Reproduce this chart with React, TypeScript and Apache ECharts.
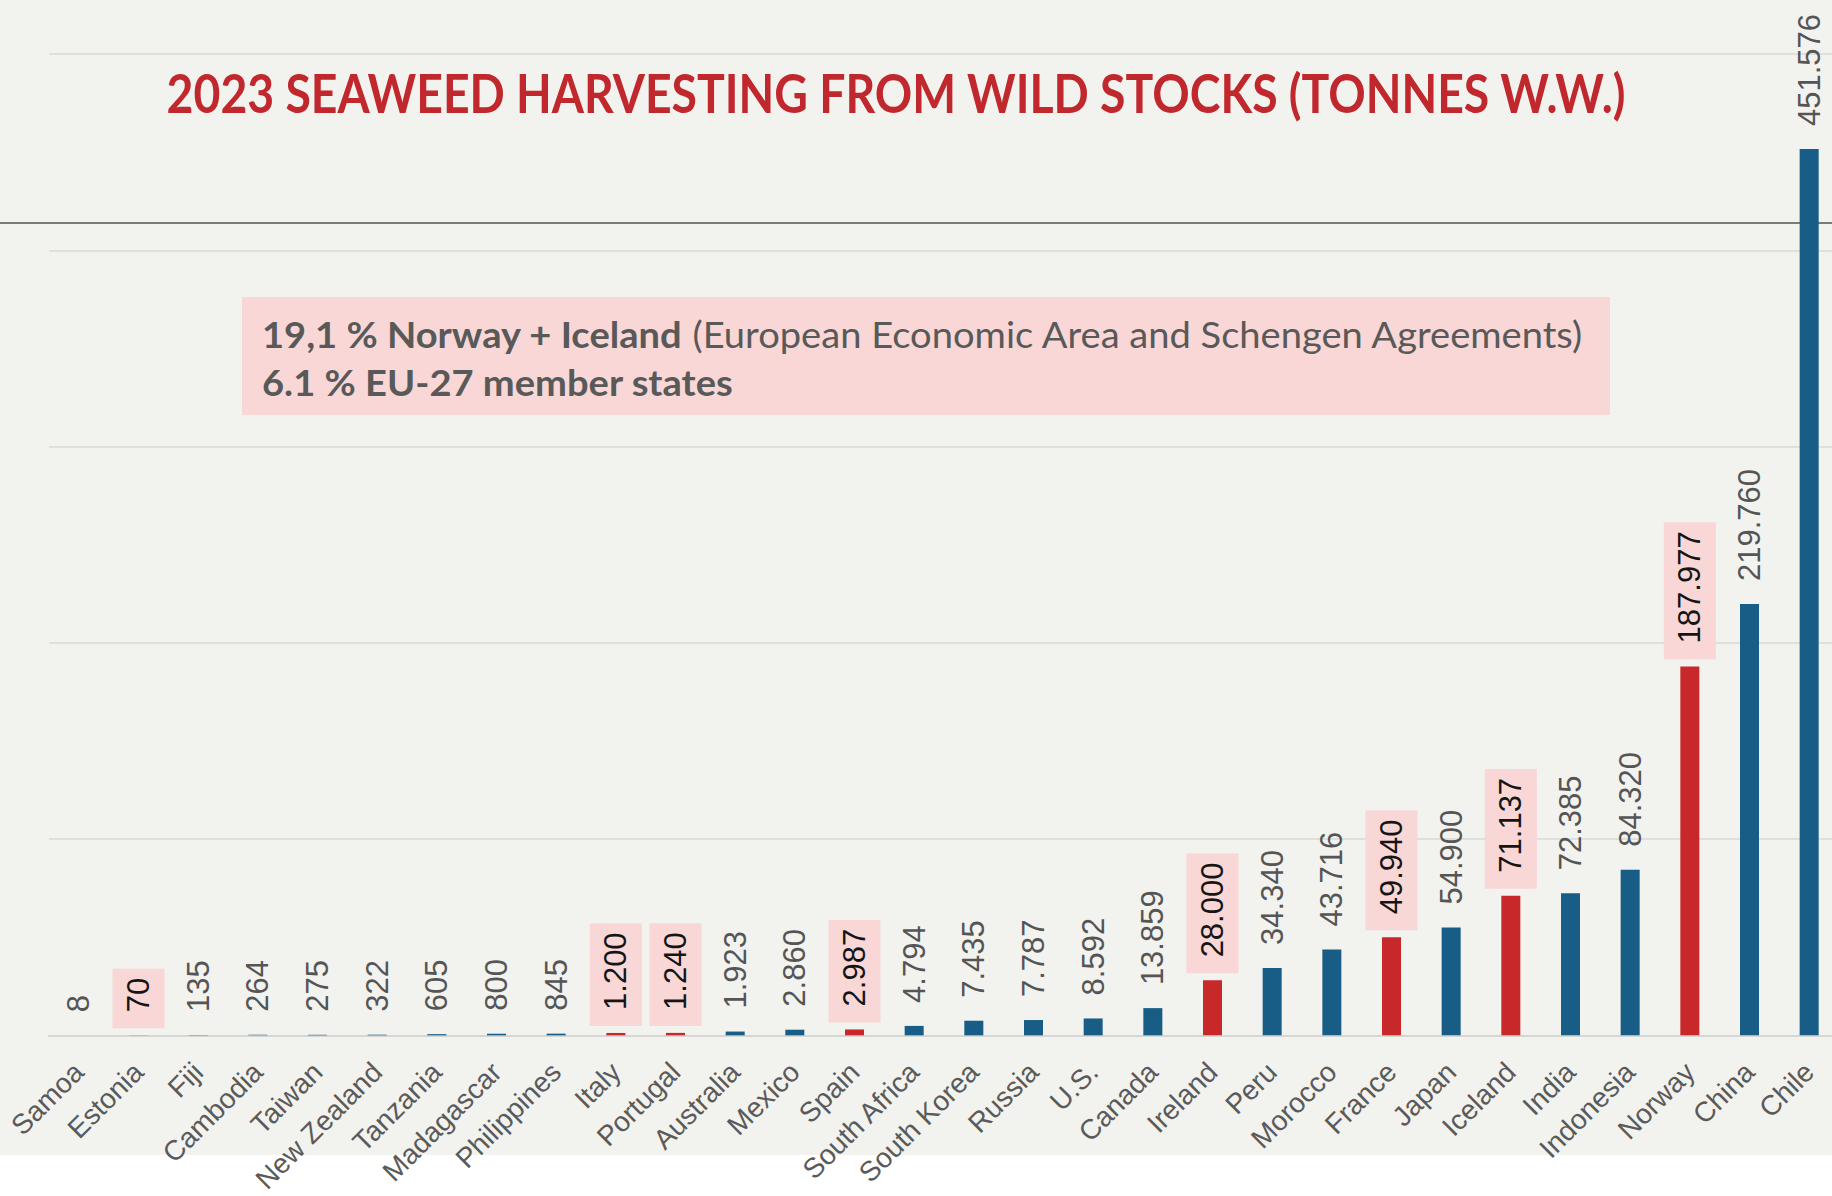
import React, { useEffect, useRef } from "react";
import * as echarts from "echarts";

const countries = [
  "Samoa", "Estonia", "Fiji", "Cambodia", "Taiwan", "New Zealand", "Tanzania", "Madagascar",
  "Philippines", "Italy", "Portugal", "Australia", "Mexico", "Spain", "South Africa",
  "South Korea", "Russia", "U.S.", "Canada", "Ireland", "Peru", "Morocco", "France", "Japan",
  "Iceland", "India", "Indonesia", "Norway", "China", "Chile",
];
const tonnes = [
  8, 70, 135, 264, 275, 322, 605, 800, 845, 1200, 1240, 1923, 2860, 2987, 4794, 7435, 7787,
  8592, 13859, 28000, 34340, 43716, 49940, 54900, 71137, 72385, 84320, 187977, 219760, 451576,
];
const highlighted = ["Estonia", "Italy", "Portugal", "Spain", "Ireland", "France", "Iceland", "Norway"];

const titleText = "2023 SEAWEED HARVESTING FROM WILD STOCKS (TONNES W.W.)";
const noteBold1 = "19,1 % Norway + Iceland";
const noteNormal1 = " (European Economic Area and Schengen Agreements)";
const noteBold2 = "6.1 % EU-27 member states";

const BLUE = "#175d85";
const RED = "#c9282a";
const PINK = "#f8d7d6";

const fmt = (v: number) => String(v).replace(/\B(?=(\d{3})+(?!\d))/g, ".");

function measure(text: string, font: string) {
  const ctx = document.createElement("canvas").getContext("2d");
  if (!ctx) return text.length * 20;
  ctx.font = font;
  return ctx.measureText(text).width;
}

export default function App() {
  const ref = useRef<HTMLDivElement>(null);
  useEffect(() => {
    if (!ref.current) return;
    const chart = echarts.init(ref.current, undefined, { renderer: "svg" });

    const titleFont = "bold 53px Lato";
    const titleScale = 1460 / measure(titleText, titleFont);
    const noteSize = 37;
    const wB1 = measure(noteBold1, `bold ${noteSize}px Lato`);
    const wN1 = measure(noteNormal1, `${noteSize}px Lato`);
    const noteScale = 1323 / (wB1 + wN1);

    const data = tonnes.map((v, i) => {
      const hi = highlighted.includes(countries[i]);
      return hi
        ? { value: v, itemStyle: { color: RED }, label: { backgroundColor: PINK, color: "#151515" } }
        : { value: v };
    });

    chart.setOption({
      animation: false,
      backgroundColor: "transparent",
      grid: { left: 49, right: 1, top: 54, bottom: 158, containLabel: false },
      xAxis: {
        type: "category",
        data: countries,
        axisLine: { lineStyle: { color: "#d6d6d4", width: 2 } },
        axisTick: { show: false },
        axisLabel: {
          interval: 0,
          rotate: 45,
          margin: 32,
          fontFamily: "Liberation Sans",
          fontSize: 28,
          color: "#5a5a5a",
        },
      },
      yAxis: {
        type: "value",
        min: 0,
        max: 500000,
        interval: 100000,
        axisLabel: { show: false },
        axisLine: { show: false },
        axisTick: { show: false },
        splitLine: { lineStyle: { color: "#d9d9d7", width: 1.5 } },
      },
      series: [
        {
          type: "bar",
          data,
          barWidth: 19,
          itemStyle: { color: BLUE },
          label: {
            show: true,
            position: "top",
            distance: 7,
            rotate: 90,
            align: "left",
            verticalAlign: "middle",
            fontFamily: "Liberation Sans",
            fontSize: 31,
            lineHeight: 26,
            color: "#555555",
            padding: [13, 9, 13, 16],
            formatter: (p: any) => fmt(p.value),
          },
        },
      ],
      graphic: [
        {
          type: "line",
          z: 0,
          shape: { x1: 0, y1: 223, x2: 1840, y2: 223 },
          style: { stroke: "#7a7a7a", lineWidth: 2 },
        },
        {
          type: "text",
          x: 896,
          y: 93,
          scaleX: titleScale,
          style: {
            text: titleText,
            font: titleFont,
            fill: "#c0282d",
            textAlign: "center",
            textVerticalAlign: "middle",
          },
        },
        {
          type: "rect",
          z: 0,
          shape: { x: 242, y: 297, width: 1368, height: 118 },
          style: { fill: PINK },
        },
        {
          type: "group",
          x: 262,
          y: 0,
          scaleX: noteScale,
          children: [
            {
              type: "text",
              x: 0,
              y: 334,
              style: {
                text: noteBold1,
                font: `bold ${noteSize}px Lato`,
                fill: "#595959",
                textVerticalAlign: "middle",
              },
            },
            {
              type: "text",
              x: wB1,
              y: 334,
              style: {
                text: noteNormal1,
                font: `${noteSize}px Lato`,
                fill: "#595959",
                textVerticalAlign: "middle",
              },
            },
            {
              type: "text",
              x: 0,
              y: 382,
              style: {
                text: noteBold2,
                font: `bold ${noteSize}px Lato`,
                fill: "#595959",
                textVerticalAlign: "middle",
              },
            },
          ],
        },
      ],
    });
    return () => chart.dispose();
  }, []);

  return (
    <div
      style={{
        position: "absolute",
        left: 0,
        top: 0,
        width: 1832,
        height: 1196,
        overflow: "hidden",
        background: "linear-gradient(to bottom, #f2f2ee 0px, #f2f2ee 1155px, #ffffff 1155px)",
      }}
    >
      <div ref={ref} style={{ width: 1840, height: 1196 }} />
    </div>
  );
}
